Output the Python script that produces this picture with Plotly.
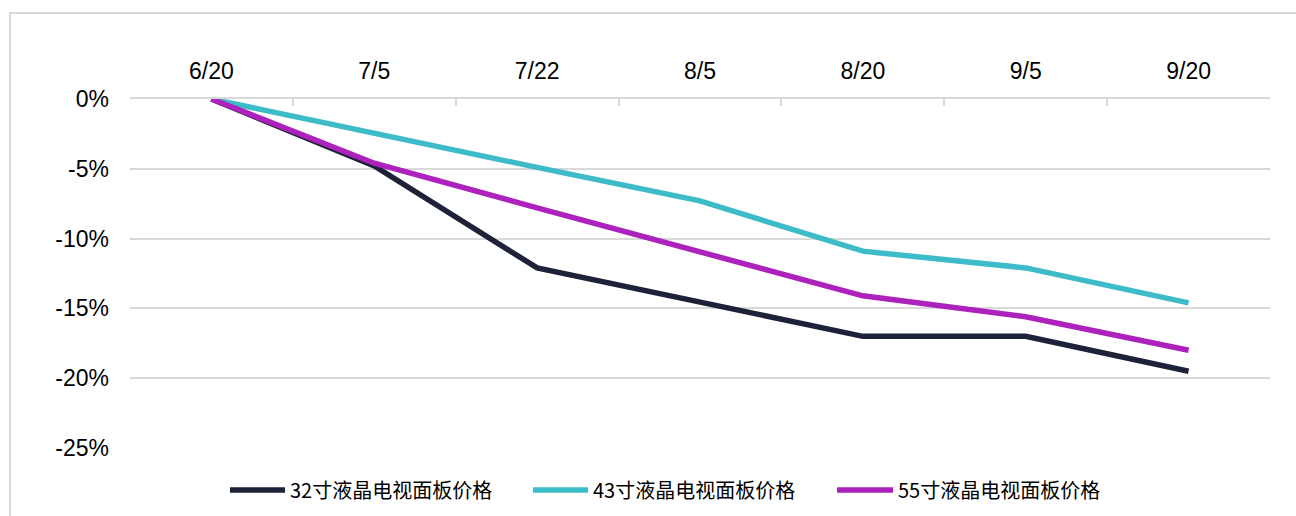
import plotly.graph_objects as go

dates = ["6/20", "7/5", "7/22", "8/5", "8/20", "9/5", "9/20"]
s32 = [0, -4.8, -12.1, -14.6, -17.0, -17.0, -19.5]
s43 = [0, -2.4, -4.9, -7.3, -10.9, -12.1, -14.6]
s55 = [0, -4.6, -7.8, -10.9, -14.1, -15.6, -18.0]
names = ["32寸液晶电视面板价格", "43寸液晶电视面板价格", "55寸液晶电视面板价格"]
colors = ["#1E2239", "#3DBBC9", "#AD22BC"]
y_ticks = [0, -5, -10, -15, -20, -25]
y_text = ["0%", "-5%", "-10%", "-15%", "-20%", "-25%"]

fig = go.Figure()
for vals, nm, c in zip([s32, s43, s55], names, colors):
    fig.add_trace(go.Scatter(x=dates, y=vals, name=nm, mode="lines",
                             line=dict(color=c, width=5.5), showlegend=False))

fig.update_layout(
    width=1296, height=516, autosize=False,
    margin=dict(l=130, r=26, t=99, b=68),
    paper_bgcolor="white", plot_bgcolor="white",
    font=dict(family="Liberation Sans, Arial, sans-serif", size=23, color="#000000"),
    xaxis=dict(type="category", side="top", range=[-0.5, 6.5],
               showline=True, linecolor="#D9D9D9", linewidth=2,
               ticks="inside", ticklen=7, tickwidth=1.5, tickcolor="#D9D9D9",
               tickson="boundaries", showgrid=False, zeroline=False,
               ticklabelstandoff=9),
    yaxis=dict(range=[-25, 0], tickvals=y_ticks, ticktext=y_text,
               showgrid=True, gridcolor="#D9D9D9", gridwidth=1.5,
               zeroline=False, showline=False, ticks="",
               ticklabelstandoff=20),
)

# chart frame (left and top edges)
fig.add_shape(type="path", xref="paper", yref="paper",
              path="M -0.1053,-0.25 L -0.1053,1.2464 L 1.05,1.2464",
              line=dict(color="#D9D9D9", width=2), layer="below")

# custom legend (longer line samples like the original)
leg_y = -0.1203
leg_line_x = [(0.0877, 0.1360), (0.3535, 0.4018), (0.6202, 0.6693)]
leg_text_x = [0.1386, 0.4044, 0.6719]
for (x0, x1), tx, nm, c in zip(leg_line_x, leg_text_x, names, colors):
    fig.add_shape(type="line", xref="paper", yref="paper", x0=x0, x1=x1,
                  y0=leg_y, y1=leg_y, line=dict(color=c, width=5.5))
    fig.add_annotation(xref="paper", yref="paper", x=tx, y=leg_y, text=nm,
                       showarrow=False, xanchor="left", yanchor="middle",
                       font=dict(family="Noto Sans CJK SC", size=20, color="#000000"))

fig.write_html("out.html", config={"displayModeBar": False},
               post_script="document.body.style.margin='0';")
